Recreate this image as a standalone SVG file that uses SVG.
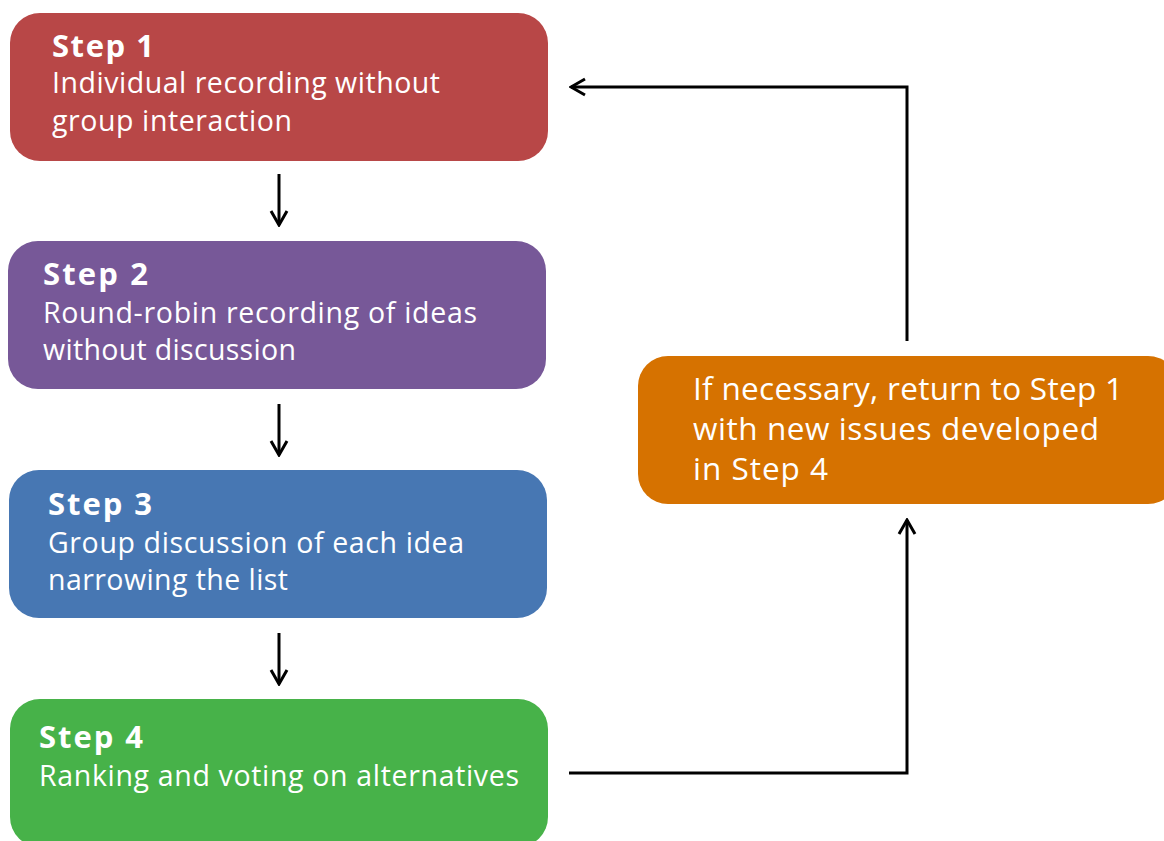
<svg xmlns="http://www.w3.org/2000/svg" width="1164" height="841" viewBox="0 0 1164 841">
<style>
.box{stroke:none}
.t{font-family:"Open Sans",Lato,sans-serif;fill:#fff;font-size:28.5px}
.b{font-weight:bold;font-size:31px}
.o{font-size:31.5px}
.c{fill:none;stroke:#000;stroke-width:3}
</style>
<defs>
<marker id="ah" viewBox="0 0 20 20" refX="18" refY="10" markerWidth="20" markerHeight="20" markerUnits="userSpaceOnUse" orient="auto">
<path d="M4,2 L18,10 L4,18" fill="none" stroke="#000" stroke-width="3"/>
</marker>
</defs>
<rect width="1164" height="841" fill="#fff"/>
<g id="step1"><rect class="box" x="10" y="13" width="538" height="148" rx="30" fill="#B84747"/>
<text class="t b" x="52" y="57" textLength="102">Step 1</text>
<text class="t" x="52" y="93" textLength="388">Individual recording without</text>
<text class="t" x="52" y="131" textLength="240">group interaction</text></g>
<g id="step2"><rect class="box" x="8" y="241" width="538" height="148" rx="30" fill="#775898"/>
<text class="t b" x="43" y="285" textLength="105">Step 2</text>
<text class="t" x="43" y="323" textLength="434">Round-robin recording of ideas</text>
<text class="t" x="43" y="360" textLength="253">without discussion</text></g>
<g id="step3"><rect class="box" x="9" y="470" width="538" height="148" rx="30" fill="#4777B3"/>
<text class="t b" x="48" y="515" textLength="104">Step 3</text>
<text class="t" x="48" y="553" textLength="416">Group discussion of each idea</text>
<text class="t" x="48" y="590" textLength="240">narrowing the list</text></g>
<g id="step4"><rect class="box" x="10" y="699" width="538" height="148" rx="30" fill="#47B249"/>
<text class="t b" x="39" y="748" textLength="104">Step 4</text>
<text class="t" x="39" y="786" textLength="480">Ranking and voting on alternatives</text></g>
<g id="ret"><rect class="box" x="638" y="356" width="540" height="148" rx="30" fill="#D67200"/>
<text class="t o" x="693" y="400" textLength="430">If necessary, return to Step 1</text>
<text class="t o" x="693" y="440" textLength="406">with new issues developed</text>
<text class="t o" x="693" y="480" textLength="135">in Step 4</text></g>
<g id="connectors">
<line class="c" x1="279" y1="174" x2="279" y2="225" marker-end="url(#ah)"/>
<line class="c" x1="279" y1="404" x2="279" y2="455" marker-end="url(#ah)"/>
<line class="c" x1="279" y1="633" x2="279" y2="684" marker-end="url(#ah)"/>
<polyline class="c" points="569,773 907,773 907,520" marker-end="url(#ah)"/>
<polyline class="c" points="907,341 907,87 571,87" marker-end="url(#ah)"/>
</g>
</svg>
